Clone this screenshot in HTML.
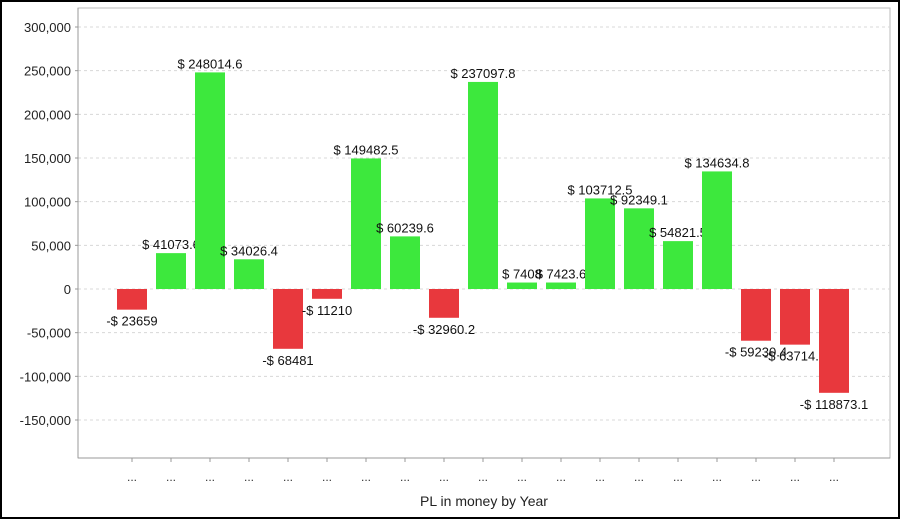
<!DOCTYPE html>
<html><head><meta charset="utf-8"><style>
html,body{margin:0;padding:0;background:#fff}
#wrap{width:900px;height:519px;box-sizing:border-box;border:2px solid #000;position:relative;overflow:hidden}
svg{position:absolute;left:-2px;top:-2px}
text{font-family:"Liberation Sans",sans-serif}
</style></head><body>
<div id="wrap">
<svg id="chart" width="900" height="519"></svg>
</div>
<script>
const categories = ["...","...","...","...","...","...","...","...","...","...","...","...","...","...","...","...","...","...","..."];
const values = [-23659, 41073.6, 248014.6, 34026.4, -68481, -11210, 149482.5, 60239.6, -32960.2, 237097.8, 7408, 7423.6, 103712.5, 92349.1, 54821.5, 134634.8, -59230.4, -63714.5, -118873.1];
const valueLabels = ["-$ 23659","$ 41073.6","$ 248014.6","$ 34026.4","-$ 68481","-$ 11210","$ 149482.5","$ 60239.6","-$ 32960.2","$ 237097.8","$ 7408","$ 7423.6","$ 103712.5","$ 92349.1","$ 54821.5","$ 134634.8","-$ 59230.4","-$ 63714.5","-$ 118873.1"];
const yTicks = [300000,250000,200000,150000,100000,50000,0,-50000,-100000,-150000];
const yTickLabels = ["300,000","250,000","200,000","150,000","100,000","50,000","0","-50,000","-100,000","-150,000"];

const NS="http://www.w3.org/2000/svg";
const svg=document.getElementById('chart');
const L=78,R=890,T=8,B=458;
function y(v){return 289 - v*(262/300000);}
function x(i){return 132 + i*39;}
function mk(tag,attrs,parent){const e=document.createElementNS(NS,tag);for(const k in attrs)e.setAttribute(k,attrs[k]);(parent||svg).appendChild(e);return e;}

const bg=mk('rect',{x:L,y:T,width:R-L,height:B-T,fill:'#fff',stroke:'#bbb','stroke-width':1});



yTicks.forEach((t,i)=>{
  const g=mk('line',{x1:L,x2:R,y1:y(t),y2:y(t),stroke:'#d8d8d8','stroke-dasharray':'3,3'});
  
  
  const tk=mk('line',{x1:L-3,x2:L,y1:y(t),y2:y(t),stroke:'#999'});
  
  
  const lb=mk('text',{x:L-7,y:y(t)+5,'text-anchor':'end','font-size':13,fill:'#222'});
  lb.textContent=yTickLabels[i];
  
  
});
const ax=mk('line',{x1:L,x2:L,y1:T,y2:B,stroke:'#999'});


const bx=mk('line',{x1:L,x2:R,y1:B,y2:B,stroke:'#999'});



values.forEach((v,i)=>{
  const cx=x(i),y0=y(0),y1=y(v);
  const r=mk('rect',{x:cx-15,y:Math.min(y0,y1),width:30,height:Math.abs(y1-y0),fill:v>=0?'#3de83d':'#e8383d'});
  
  
  const t=mk('text',{x:cx,y:v>=0?y1-4:y1+16,'text-anchor':'middle','font-size':13,fill:'#111'});
  t.textContent=valueLabels[i];
  
  
  const tk=mk('line',{x1:cx,x2:cx,y1:B,y2:B+4,stroke:'#999'});
  
  
  const xl=mk('text',{x:cx,y:481,'text-anchor':'middle','font-size':12,fill:'#333'});
  xl.textContent=categories[i];
  
  
});
const title=mk('text',{x:484,y:506,'text-anchor':'middle','font-size':14,fill:'#222'});
title.textContent='PL in money by Year';


</script>
</body></html>
